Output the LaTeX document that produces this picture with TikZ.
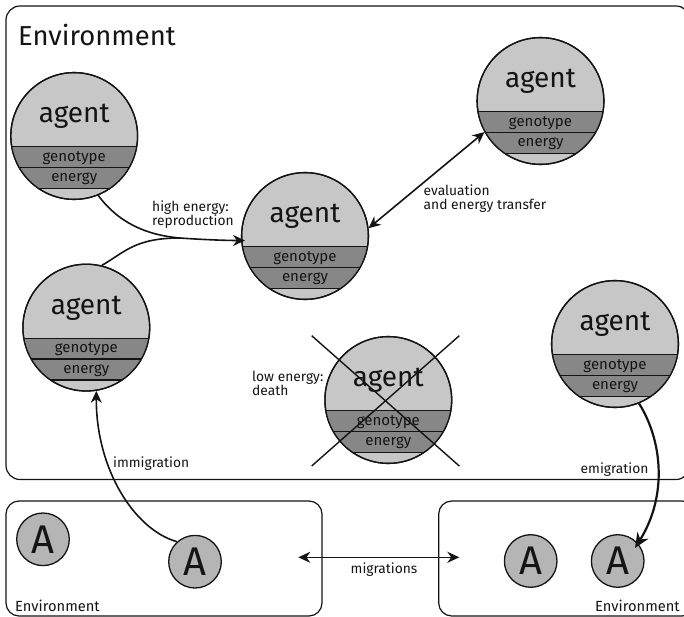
\documentclass[tikz,border=0pt]{standalone}
\usepackage{fontspec}
\setmainfont{Fira Sans}
\usetikzlibrary{arrows.meta}
\definecolor{agentlight}{gray}{0.78}
\definecolor{agentdark}{gray}{0.53}
\definecolor{smallfill}{gray}{0.71}
\definecolor{ink}{gray}{0.08}
\tikzset{
  x=1pt,y=-1pt,
  envbox/.style={draw=ink,line width=1.2pt,rounded corners=13pt},
  agentbody/.style={circle,draw=ink,line width=1.3pt,fill=agentlight,minimum size=126.8pt,inner sep=0pt},
  smallagent/.style={circle,draw=ink,line width=1.3pt,fill=smallfill,minimum size=52.6pt,inner sep=0pt,text=ink,font=\fontsize{40}{40}\selectfont},
  agentword/.style={text=ink,font=\fontsize{28}{28}\selectfont,inner sep=0pt},
  fieldword/.style={text=ink,font=\fontsize{15}{15}\selectfont,inner sep=0pt},
  note/.style={text=ink,font=\fontsize{13.8}{14}\selectfont,inner sep=0pt,align=left},
  envword/.style={text=ink,font=\fontsize{14.7}{15}\selectfont,inner sep=0pt},
  plainlink/.style={draw=ink,line width=1.6pt},
  link/.style={draw=ink,line width=1.6pt,-{Stealth[length=12pt,width=11pt]}},
  biglink/.style={draw=ink,line width=2.2pt,-{Stealth[length=15pt,width=13pt]}},
  twoway/.style={draw=ink,line width=1.6pt,{Stealth[length=12pt,width=11pt]}-{Stealth[length=12pt,width=11pt]}},
  crossline/.style={draw=ink,line width=1.4pt},
}
\newcommand{\agentcirc}[3]{%
  \node[agentbody] (#1) at (#2,#3) {};
  \begin{scope}
    \clip (#2,#3) circle[radius=63.4];
    \fill[agentdark] (#2-70,#3+10.7) rectangle (#2+70,#3+52.3);
    \draw[ink,line width=1.3pt] (#2-70,#3+10.7) -- (#2+70,#3+10.7);
    \draw[ink,line width=1.3pt] (#2-70,#3+31.5) -- (#2+70,#3+31.5);
    \draw[ink,line width=1.3pt] (#2-70,#3+52.3) -- (#2+70,#3+52.3);
  \end{scope}
  \draw[ink,line width=1.3pt] (#2,#3) circle[radius=63.4];
  \node[agentword] (#1word) at (#2,#3-19.5) {agent};
  \node[fieldword] (#1geno) at (#2,#3+22) {genotype};
  \node[fieldword] (#1ener) at (#2,#3+43) {energy};
}
\begin{document}
\begin{tikzpicture}
\useasboundingbox (0,0) rectangle (684,617);
% environments
\draw[envbox,rounded corners=14pt] (6,6) rectangle (690,479.5);
\draw[envbox] (6,501) rectangle (322,616);
\draw[envbox] (438.7,501) rectangle (695,616);
\node[anchor=base west,text=ink,font=\fontsize{27.4}{28}\selectfont,inner sep=0pt] (envmain) at (18,46) {Environment};
\node[envword,anchor=base west] (envleft) at (15,611) {Environment};
\node[envword,anchor=base west] (envright) at (595,611) {Environment};
% agents
\agentcirc{aone}{74.2}{136}
\agentcirc{acenter}{305}{236}
\agentcirc{atop}{540.5}{101}
\agentcirc{aleft}{86.3}{327.6}
\agentcirc{aright}{615}{344}
\agentcirc{adead}{388.3}{400}
% small agents
\node[smallagent] (sa) at (43,539.3) {A};
\node[smallagent] (sb) at (195,561.7) {A};
\node[smallagent] (sc) at (530.7,561) {A};
\node[smallagent] (sd) at (617.7,561) {A};
% cross
\coordinate (xa) at (311.7,335.7);
\coordinate (xb) at (459.3,466);
\coordinate (xc) at (311.7,466);
\coordinate (xd) at (459.3,335.7);
\draw[crossline] (xa) -- (xb);
\draw[crossline] (xc) -- (xd);
% connectors
\coordinate (mergept) at (180,238);
\coordinate (tippt) at (245,240.5);
\coordinate (emitip) at (635,548);
\draw[plainlink] (aone.-68) .. controls (118,222) and (145,235) .. (mergept);
\draw[plainlink] (aleft.76) .. controls (125,252) and (135,238) .. (mergept);
\draw[link] (mergept) .. controls (200,239.5) and (225,240.5) .. (tippt);
\draw[twoway] (atop.-151) -- (acenter.7.5);
\draw[link] (sb.132) .. controls (135,530) and (96,470) .. (aleft.-81);
\draw[biglink] (aright.-68) .. controls (662,440) and (668,495) .. (emitip);
\coordinate (ml) at (298.3,557.3);
\coordinate (mr) at (459.3,557.3);
\draw[twoway] (ml) -- (mr);
% labels
\node[note,anchor=north west] (lhigh) at (152,200.5) {high energy:\\reproduction};
\node[note,anchor=north west] (leval) at (423.5,185) {evaluation\\and energy transfer};
\node[note,anchor=north west] (llow) at (252,371) {low energy:\\death};
\node[note,anchor=base west] (limm) at (113,467.5) {immigration};
\node[note,anchor=base west] (lemi) at (580.5,473.5) {emigration};
\node[note,anchor=base west] (lmig) at (350.5,573) {migrations};
\end{tikzpicture}
\end{document}
